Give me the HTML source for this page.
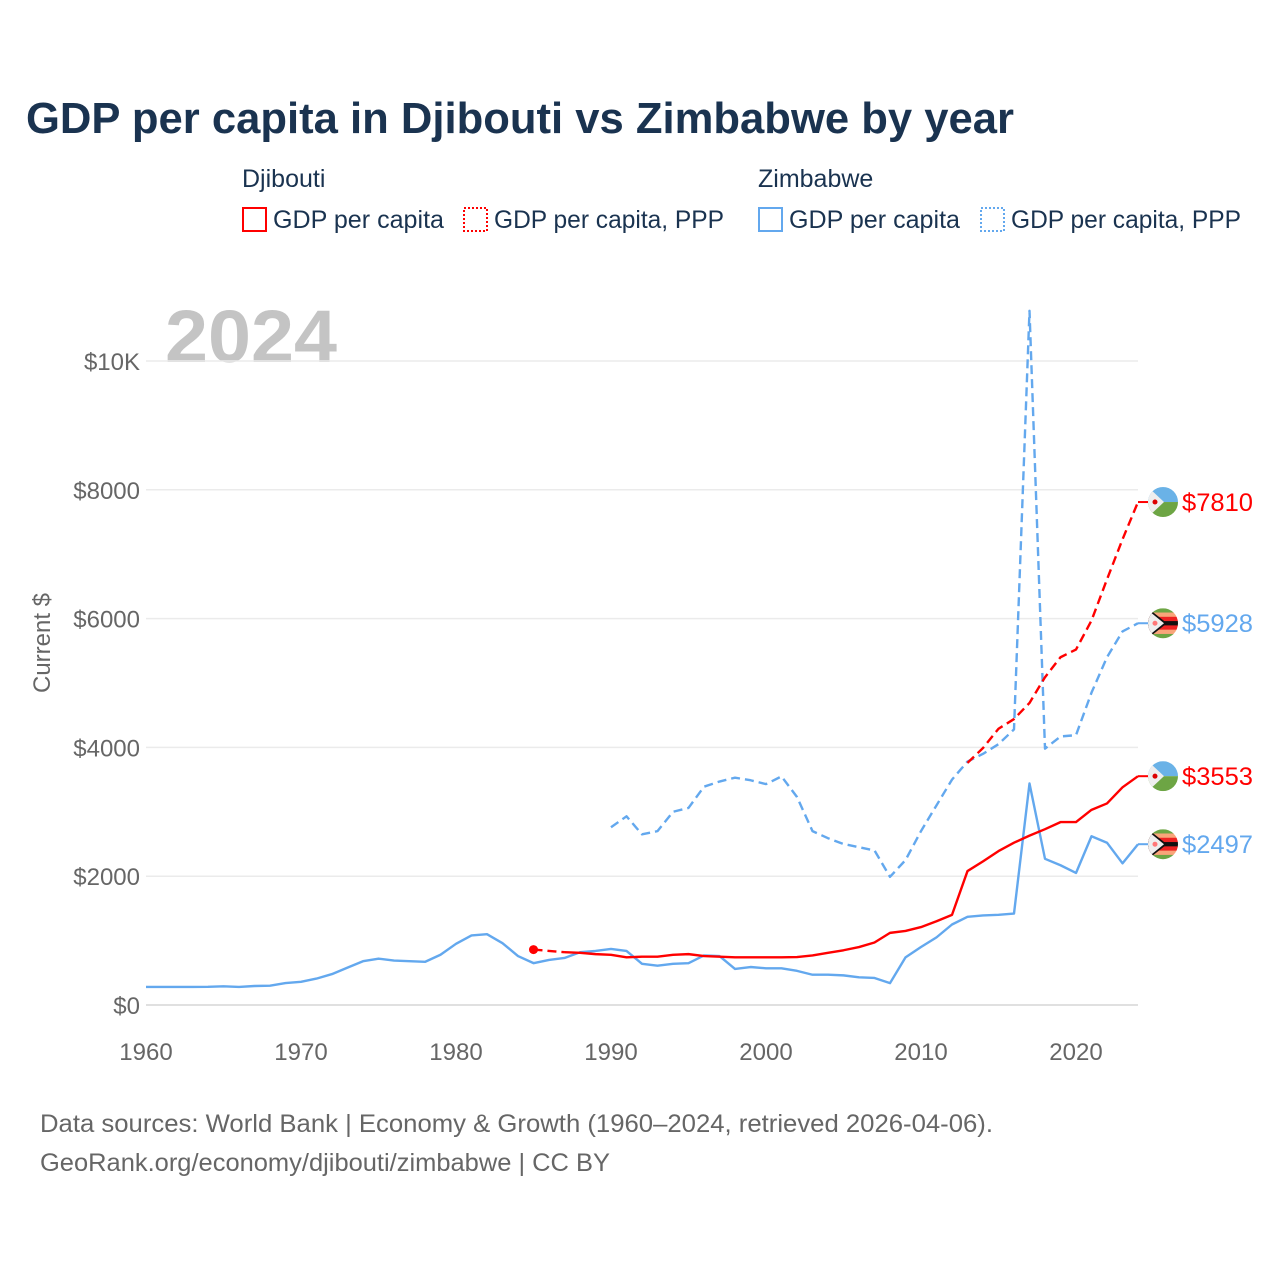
<!DOCTYPE html>
<html><head><meta charset="utf-8"><style>
body{margin:0;background:#fff;font-family:"Liberation Sans",sans-serif}
svg text{font-family:"Liberation Sans",sans-serif}
</style></head><body>
<svg id="c" width="1280" height="1280" viewBox="0 0 1280 1280" xmlns="http://www.w3.org/2000/svg">
<text x="26" y="133" font-size="44" font-weight="bold" fill="#1a3350" textLength="988" lengthAdjust="spacingAndGlyphs">GDP per capita in Djibouti vs Zimbabwe by year</text>
<g font-size="25" fill="#1a3350">
<text x="242" y="187" fill="#1a3350">Djibouti</text>
<text x="758" y="187" fill="#1a3350">Zimbabwe</text>
<g><rect x="243" y="208" width="23" height="23" fill="none" stroke="#f00" stroke-width="2"/><text x="273" y="228" textLength="171" lengthAdjust="spacingAndGlyphs">GDP per capita</text></g>
<g><rect x="464" y="208" width="23" height="23" fill="none" stroke="#f00" stroke-width="2" stroke-dasharray="2,2"/><text x="494" y="228" textLength="230" lengthAdjust="spacingAndGlyphs">GDP per capita, PPP</text></g>
<g><rect x="759" y="208" width="23" height="23" fill="none" stroke="#63a8ee" stroke-width="2"/><text x="789" y="228" textLength="171" lengthAdjust="spacingAndGlyphs">GDP per capita</text></g>
<g><rect x="981" y="208" width="23" height="23" fill="none" stroke="#63a8ee" stroke-width="2" stroke-dasharray="2,2"/><text x="1011" y="228" textLength="230" lengthAdjust="spacingAndGlyphs">GDP per capita, PPP</text></g>
</g>
<text x="165" y="362" font-size="74" font-weight="bold" fill="#c4c4c4" textLength="172" lengthAdjust="spacingAndGlyphs">2024</text>
<text transform="translate(50,643) rotate(-90)" text-anchor="middle" font-size="24" fill="#666">Current $</text>
<g id="grid"></g><g id="series"></g><g id="labels"></g>
<text x="40" y="1132" font-size="25" fill="#666" textLength="953" lengthAdjust="spacingAndGlyphs">Data sources: World Bank | Economy &amp; Growth (1960–2024, retrieved 2026-04-06).</text>
<text x="40" y="1171" font-size="25" fill="#666" textLength="570" lengthAdjust="spacingAndGlyphs">GeoRank.org/economy/djibouti/zimbabwe | CC BY</text>
</svg>
<script>
const yTicks=[0,2000,4000,6000,8000,10000];
const yTickLabels=["$0","$2000","$4000","$6000","$8000","$10K"];
const xTicks=[1960,1970,1980,1990,2000,2010,2020];
const zwGdpStart=1960;
const zwGdp=[280,280,280,280,282,290,280,295,300,340,360,410,480,580,680,720,690,680,670,780,950,1080,1100,960,760,650,700,730,820,840,870,840,640,610,640,650,770,760,560,590,570,570,530,470,470,460,430,420,340,740,900,1050,1250,1370,1390,1400,1420,3440,2270,2170,2050,2620,2520,2200,2497];
const zwPppStart=1990;
const zwPpp=[2760,2930,2650,2700,3000,3060,3390,3470,3530,3490,3430,3550,3230,2700,2590,2500,2450,2400,1990,2250,2700,3100,3500,3780,3900,4050,4280,10780,3980,4170,4190,4850,5400,5800,5928];
const djGdpStart=1985;
const djGdp=[860,830,820,810,790,780,740,750,750,780,790,760,750,740,740,740,740,745,770,810,850,900,970,1120,1150,1210,1300,1400,2080,2230,2390,2520,2630,2730,2840,2840,3030,3130,3380,3553];
const djPppStart=2013;
const djPpp=[3760,3990,4290,4440,4690,5090,5400,5520,5970,6610,7230,7810];

const NS="http://www.w3.org/2000/svg";
const X=y=>146+(y-1960)*15.5;
const Y=v=>1005-v*0.0644;
function mk(t,a,p){const e=document.createElementNS(NS,t);for(const k in a)e.setAttribute(k,a[k]);p.appendChild(e);return e;}
const grid=document.getElementById('grid'),ser=document.getElementById('series'),lab=document.getElementById('labels');
yTicks.forEach((v,i)=>{
 const l=mk('line',{x1:146,x2:1138,y1:Y(v),y2:Y(v),stroke:i==0?'#e0e0e0':'#ebebeb','stroke-width':i==0?2:1.5},grid);
 
 
 const t=mk('text',{x:140,y:Y(v)+9,'text-anchor':'end','font-size':24,fill:'#666'},grid);
 t.textContent=yTickLabels[i];
 
 
});
xTicks.forEach(v=>{
 const t=mk('text',{x:X(v),y:1060,'text-anchor':'middle','font-size':24,fill:'#666'},grid);
 t.textContent=v;
 
 
});
function line(start,vals,color,dash,name){
 const pts=vals.map((v,i)=>X(start+i)+','+Y(v)).join(' ');
 const a={points:pts,fill:'none',stroke:color,'stroke-width':2.4,'stroke-linejoin':'round'};
 if(dash)a['stroke-dasharray']='9,5';
 const p=mk('polyline',a,ser);
 
 
}
line(zwGdpStart,zwGdp,'#63a8ee',false,'zimbabwe-gdp-line');
line(zwPppStart,zwPpp,'#63a8ee',true,'zimbabwe-ppp-line');
const d0=mk('polyline',{points:X(djGdpStart)+','+Y(djGdp[0])+' '+X(djGdpStart+2)+','+Y(djGdp[2]),fill:'none',stroke:'#f00','stroke-width':2.4,'stroke-dasharray':'9,5'},ser);


line(djGdpStart+2,djGdp.slice(2),'#f00',false,'djibouti-gdp-line');
const dot=mk('circle',{cx:X(djGdpStart),cy:Y(djGdp[0]),r:4.5,fill:'#f00'},ser);


line(djPppStart,djPpp,'#f00',true,'djibouti-ppp-line');
function endLab(val,color,flag,name){
 const y=Y(val),xe=X(2024);
 const l=mk('line',{x1:xe,x2:1150,y1:y,y2:y,stroke:color,'stroke-width':2},lab);
 
 
 const g=mk('g',{},lab);
 
 
 const cx=1163,r=15;
 const cp='cp'+name;
 const c=mk('clipPath',{id:cp},g);mk('circle',{cx:cx,cy:y,r:r},c);
 const gg=mk('g',{'clip-path':'url(#'+cp+')'},g);
 if(flag==='dj'){
  mk('rect',{x:cx-r,y:y-r,width:2*r,height:r,fill:'#6ab2e7'},gg);
  mk('rect',{x:cx-r,y:y,width:2*r,height:r,fill:'#6da544'},gg);
  mk('polygon',{points:(cx-r)+','+(y-r)+' '+(cx+1)+','+y+' '+(cx-r)+','+(y+r),fill:'#eee'},gg);
  mk('circle',{cx:cx-8,cy:y,r:2.5,fill:'#d00'},gg);
 }else{
  const cols=['#6da544','#f9a57a','#e22','#111','#e22','#f9a57a','#6da544'];
  cols.forEach((cl,i)=>mk('rect',{x:cx-r,y:y-r+i*(2*r/7),width:2*r,height:2*r/7+0.5,fill:cl},gg));
  mk('polygon',{points:(cx-r)+','+(y-r)+' '+(cx+4)+','+y+' '+(cx-r)+','+(y+r),fill:'#111'},gg);
  mk('polygon',{points:(cx-r)+','+(y-r+2)+' '+(cx+1)+','+y+' '+(cx-r)+','+(y+r-2),fill:'#eee'},gg);
  mk('circle',{cx:cx-8,cy:y,r:2.5,fill:'#f77'},gg);
 }
 const t=mk('text',{x:1182,y:y+9,'font-size':25,fill:color,textLength:71,lengthAdjust:'spacingAndGlyphs'},lab);
 t.textContent='$'+val;
 
 
}
endLab(djPpp[djPpp.length-1],'#f00','dj','djibouti-ppp-end');
endLab(zwPpp[zwPpp.length-1],'#63a8ee','zw','zimbabwe-ppp-end');
endLab(djGdp[djGdp.length-1],'#f00','dj','djibouti-gdp-end');
endLab(zwGdp[zwGdp.length-1],'#63a8ee','zw','zimbabwe-gdp-end');
</script>
</body></html>
